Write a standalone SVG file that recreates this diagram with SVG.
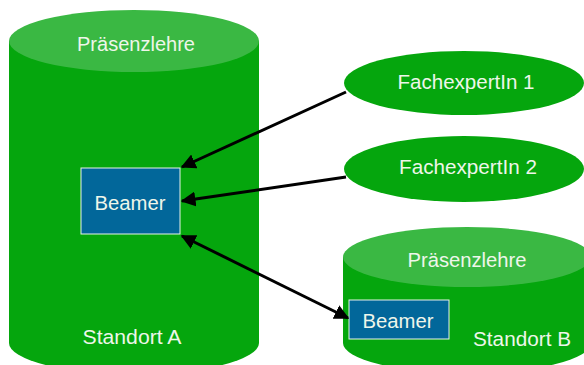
<svg xmlns="http://www.w3.org/2000/svg" width="584" height="365" viewBox="0 0 584 365">
<defs>
<marker id="ah" viewBox="0 0 10 10" refX="9" refY="5" markerWidth="5" markerHeight="5" orient="auto-start-reverse" markerUnits="strokeWidth">
<path d="M0,0 L10,5 L0,10 Z" fill="#000"/>
</marker>
<style>
.side{fill:#05A60D}
.top{fill:#3AB843}
.oval{fill:#05A60D}
.box{fill:#02679A;stroke:#E8F2E8;stroke-width:1}
.t{font-family:"Liberation Sans",Arial,sans-serif;font-size:20.5px;fill:#EEF6EA;text-anchor:middle}
.c{stroke:#000;stroke-width:3;fill:none}
</style>
</defs>
<g id="standortA">
<path class="side" d="M9,41 L9,343 A125,31 0 0 0 259,343 L259,41 Z"/>
<ellipse class="top" cx="134" cy="41" rx="125" ry="31"/>
<text class="t" x="136" y="50.5" textLength="118" lengthAdjust="spacingAndGlyphs">Präsenzlehre</text>
<text class="t" x="132" y="343.5" textLength="99" lengthAdjust="spacingAndGlyphs">Standort A</text>
</g>
<g id="standortB">
<path class="side" d="M343,257 L343,343 A124,30 0 0 0 591,343 L591,257 Z"/>
<ellipse class="top" cx="467" cy="257" rx="124" ry="30"/>
<text class="t" x="467" y="266.5" textLength="119" lengthAdjust="spacingAndGlyphs">Präsenzlehre</text>
<text class="t" x="522" y="345.5" textLength="98" lengthAdjust="spacingAndGlyphs">Standort B</text>
</g>
<g id="beamerA">
<rect class="box" x="81" y="168" width="99" height="66"/>
<text class="t" x="130" y="210" textLength="71" lengthAdjust="spacingAndGlyphs">Beamer</text>
</g>
<g id="beamerB">
<rect class="box" x="349" y="300" width="100" height="39"/>
<text class="t" x="398" y="327.5" textLength="71" lengthAdjust="spacingAndGlyphs">Beamer</text>
</g>
<g id="experte1">
<ellipse class="oval" cx="464" cy="83" rx="120" ry="32"/>
<text class="t" x="466" y="88.5" textLength="137" lengthAdjust="spacingAndGlyphs">FachexpertIn 1</text>
</g>
<g id="experte2">
<ellipse class="oval" cx="464" cy="169" rx="120" ry="33"/>
<text class="t" x="468" y="174" textLength="138" lengthAdjust="spacingAndGlyphs">FachexpertIn 2</text>
</g>
<g id="connectors">
<line class="c" x1="346" y1="92" x2="182" y2="167" marker-end="url(#ah)"/>
<line class="c" x1="346" y1="177" x2="182" y2="201" marker-end="url(#ah)"/>
<line class="c" x1="182" y1="236" x2="348" y2="318" marker-start="url(#ah)" marker-end="url(#ah)"/>
</g>
</svg>
